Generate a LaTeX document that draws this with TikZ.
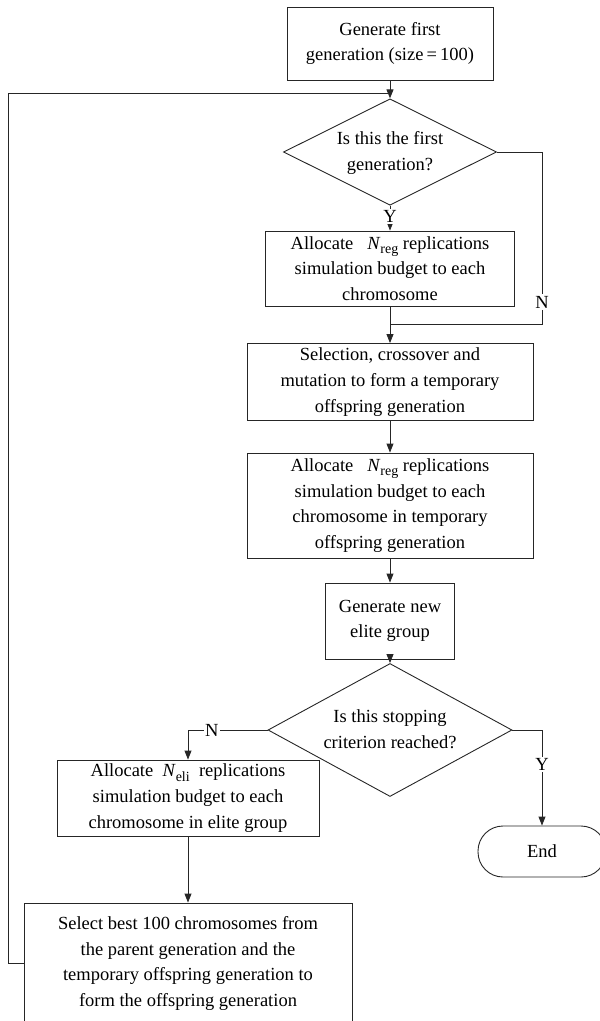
\documentclass[tikz,border=0pt]{standalone}
\usepackage{fontspec}
\setmainfont{Liberation Serif}
\usetikzlibrary{shapes.geometric,arrows.meta}

\newcommand{\Nsub}[1]{\textit{N}\raisebox{-0.5ex}{\fontsize{14}{14}\selectfont #1}}
\newcommand{\dtext}[1]{\smash{\raisebox{-4.6pt}{\begin{tabular}{@{}c@{}}#1\end{tabular}}}}

\begin{document}
\begin{tikzpicture}[x=1pt,y=-1pt,
    font=\fontsize{18.5}{25.6}\selectfont,
    procbox/.style={draw=black!85,line width=0.9pt,rectangle,align=center,inner sep=0pt},
    decision/.style={draw=black!85,line width=0.9pt,diamond,inner sep=0pt},
    terminal/.style={draw=black!85,line width=0.9pt,rectangle,rounded corners=25pt,inner sep=0pt},
    conn/.style={draw=black!85,line width=0.9pt},
    arr/.style={conn,-{Stealth[length=9pt,width=7pt,inset=0pt]}},
    lbl/.style={fill=white,inner sep=1.5pt}]
    % page
    \useasboundingbox (0,0) rectangle (600,1021);
    \clip (0,0) rectangle (600,1021);

    % main column
    \node[procbox,minimum width=206pt,minimum height=73pt] (start) at (390,43.5)
        {Generate first\\generation (size\,=\,100)};
    \node[decision,minimum width=213pt,minimum height=87pt] (first) at (390,152)
        {\dtext{Is this the first\\generation?}};
    \node[procbox,minimum width=249pt,minimum height=75pt] (alloc1) at (390,268.5)
        {Allocate\ \ \ \Nsub{reg} replications\\simulation budget to each\\chromosome};
    \node[procbox,minimum width=286pt,minimum height=77pt] (select) at (390,382)
        {Selection, crossover and\\mutation to form a temporary\\offspring generation};
    \node[procbox,minimum width=286pt,minimum height=105pt] (alloc2) at (390,505.5)
        {Allocate\ \ \ \Nsub{reg} replications\\simulation budget to each\\chromosome in temporary\\offspring generation};
    \node[procbox,minimum width=129pt,minimum height=76pt] (elite) at (390,621)
        {Generate new\\elite group};
    \node[decision,minimum width=244pt,minimum height=90pt] (stop) at (390,730)
        {\dtext{Is this stopping\\criterion reached?}};

    % branches
    \node[procbox,minimum width=262pt,minimum height=76pt] (alloc3) at (188,798)
        {Allocate\ \ \Nsub{eli}\ \ replications\\simulation budget to each\\chromosome in elite group};
    \node[terminal,minimum width=128pt,minimum height=51pt] (finish) at (542,851.5) {End};
    \node[procbox,minimum width=328pt,minimum height=121pt] (best) at (188,963.5)
        {Select best 100 chromosomes from\\the parent generation and the\\temporary offspring generation to\\form the offspring generation};

    \coordinate (join) at (390,324);
    \coordinate (nturn) at (542,324);
    \coordinate (loopcorner) at (8,93);
    \coordinate (loopjoin) at (390,93);

    % connectors
    \draw[arr] (start) -- (first);
    \draw[arr] (first) -- node[lbl,pos=0.45] {Y} (alloc1);
    \draw[conn] (first.east) -| node[lbl,pos=0.936] {N} (nturn) -- (join);
    \draw[arr] (alloc1) -- (select);
    \draw[arr] (select) -- (alloc2);
    \draw[arr] (alloc2) -- (elite);
    \draw[arr] (elite) -- (stop);
    \draw[arr] (stop.west) -| node[lbl,pos=0.35] {N} (alloc3.north);
    \draw[arr] (stop.east) -| node[lbl,pos=0.68] {Y} (finish.north);
    \draw[arr] (alloc3) -- (best);
    \draw[conn] (best.west) -| (loopcorner) -- (loopjoin);
\end{tikzpicture}
\end{document}
